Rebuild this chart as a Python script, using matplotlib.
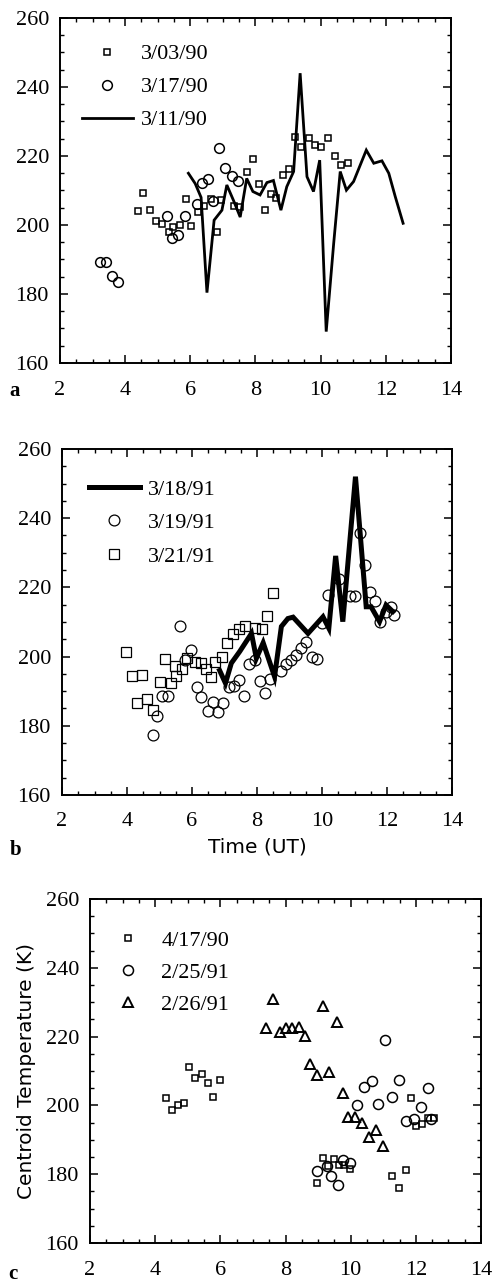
import matplotlib
matplotlib.use("Agg")
import matplotlib.pyplot as plt
from matplotlib.ticker import MultipleLocator

# ---------------- data ----------------
# panel a
a_sq_x = [4.39, 4.56, 4.76, 4.94, 5.12, 5.33, 5.48, 5.69, 5.86, 6.02, 6.22, 6.42, 6.63, 6.81, 6.95, 7.33, 7.53,
          7.73, 7.92, 8.10, 8.29, 8.47, 8.63, 8.83, 9.04, 9.22, 9.40, 9.64, 9.83, 10.02, 10.24, 10.44, 10.63, 10.83]
a_sq_y = [204.1, 209.4, 204.3, 201.2, 200.3, 198.1, 199.3, 200.0, 207.4, 199.7, 203.9, 205.5, 207.4, 198.1, 207.2,
          205.5, 205.3, 215.5, 219.0, 211.9, 204.3, 209.0, 207.7, 214.6, 216.1, 225.6, 222.7, 225.1, 223.2, 222.7,
          225.2, 220.0, 217.4, 218.0]
a_ci_x = [3.23, 3.40, 3.59, 3.79, 5.28, 5.45, 5.63, 5.84, 6.20, 6.35, 6.53, 6.71, 6.89, 7.07, 7.27, 7.46]
a_ci_y = [189.4, 189.4, 185.3, 183.6, 202.6, 196.1, 197.1, 202.6, 206.1, 212.3, 213.2, 207.0, 222.2, 216.4, 214.2, 212.8]
a_ln_x = [5.94, 6.15, 6.33, 6.51, 6.73, 6.97, 7.12, 7.33, 7.53, 7.73, 7.92, 8.14, 8.35, 8.55, 8.78, 8.96, 9.17,
          9.37, 9.58, 9.78, 9.97, 10.17, 10.40, 10.60, 10.79, 11.01, 11.40, 11.63, 11.88, 12.09, 12.29, 12.53]
a_ln_y = [215.0, 212.0, 208.0, 180.4, 201.4, 204.3, 211.6, 207.0, 202.3, 213.5, 209.7, 208.7, 212.3, 212.9, 204.3,
          211.1, 215.5, 244.0, 214.0, 209.7, 218.8, 169.1, 194.7, 215.5, 210.1, 212.6, 221.7, 217.9, 218.6, 215.0,
          208.2, 200.5]
a_labels = ["3/03/90", "3/17/90", "3/11/90"]

# panel b
b_ln_x = [6.85, 7.03, 7.21, 7.47, 7.83, 7.98, 8.19, 8.54, 8.75, 8.95, 9.11, 9.57, 10.03, 10.21, 10.42, 10.64,
          11.03, 11.36, 11.51, 11.77, 11.97, 12.18]
b_ln_y = [196.0, 192.3, 198.1, 201.5, 206.7, 199.5, 204.0, 194.2, 208.7, 211.0, 211.4, 206.7, 211.5, 208.2, 229.1,
          210.1, 252.0, 214.4, 214.4, 210.1, 214.9, 213.0]
b_ci_x = [4.79, 4.91, 5.09, 5.27, 5.63, 5.78, 5.96, 6.14, 6.29, 6.48, 6.65, 6.80, 6.96, 7.14, 7.30, 7.44, 7.59,
          7.76, 7.93, 8.08, 8.24, 8.39, 8.75, 8.90, 9.06, 9.21, 9.36, 9.52, 9.70, 9.85, 10.01, 10.18, 10.52, 10.85,
          11.00, 11.16, 11.31, 11.48, 11.62, 11.77, 11.97, 12.13, 12.23]
b_ci_y = [177.3, 182.8, 188.7, 188.7, 208.7, 199.1, 202.0, 191.2, 188.3, 184.2, 186.8, 184.1, 186.7, 191.3, 191.4,
          193.1, 188.7, 197.8, 198.9, 192.9, 189.4, 193.4, 195.7, 198.0, 199.1, 200.6, 202.6, 204.2, 199.9, 199.2,
          209.6, 217.8, 222.3, 217.5, 217.5, 235.6, 226.5, 218.8, 216.2, 210.1, 213.0, 214.4, 212.0]
b_sq_x = [3.96, 4.14, 4.47, 4.32, 4.63, 4.81, 5.01, 5.16, 5.35, 5.47, 5.52, 5.70, 5.86, 6.09, 6.27, 6.44, 6.58,
          6.72, 6.91, 7.09, 7.26, 7.44, 7.62, 7.95, 8.15, 8.32, 8.49]
b_sq_y = [201.4, 194.4, 194.7, 186.5, 187.7, 184.6, 192.8, 199.2, 192.5, 197.3, 194.4, 196.3, 199.7, 198.5, 198.2,
          196.3, 194.2, 198.5, 199.8, 203.8, 206.5, 207.9, 208.7, 208.2, 207.9, 211.7, 218.5]
b_labels = ["3/18/91", "3/19/91", "3/21/91"]

# panel c
c_sq_x = [4.33, 4.53, 4.71, 4.89, 5.05, 5.23, 5.43, 5.61, 5.79, 5.99, 8.97, 9.14, 9.31, 9.48, 9.64, 9.81, 9.98,
          11.27, 11.48, 11.69, 11.84, 12.02, 12.20, 12.38, 12.55]
c_sq_y = [202.2, 198.8, 200.1, 200.8, 211.2, 208.0, 209.0, 206.4, 202.5, 207.5, 177.3, 184.8, 182.4, 184.3, 182.6,
          182.6, 181.4, 179.5, 175.9, 181.3, 202.2, 194.0, 194.5, 196.4, 196.4]
c_ci_x = [8.98, 9.26, 9.39, 9.60, 9.77, 9.98, 10.20, 10.41, 10.64, 10.84, 11.05, 11.28, 11.49, 11.71, 11.94,
          12.15, 12.36, 12.48]
c_ci_y = [181.0, 182.4, 179.5, 176.8, 184.2, 183.4, 200.1, 205.3, 207.0, 200.5, 218.9, 202.4, 207.5, 195.6,
          196.1, 199.6, 205.1, 196.0]
c_tr_x = [7.40, 7.62, 7.83, 8.01, 8.21, 8.41, 8.59, 8.76, 8.97, 9.16, 9.35, 9.57, 9.77, 9.93, 10.14, 10.34,
          10.57, 10.79, 11.00]
c_tr_y = [222.5, 230.9, 221.3, 222.5, 222.5, 222.7, 220.2, 212.0, 208.7, 228.8, 209.7, 224.2, 203.5, 196.7,
          196.7, 195.0, 190.9, 192.8, 188.2]
c_labels = ["4/17/90", "2/25/91", "2/26/91"]

x_ticks = [2, 4, 6, 8, 10, 12, 14]
y_ticks = [160, 180, 200, 220, 240, 260]

# ---------------- figure ----------------
W, H = 495, 1282
fig = plt.figure(figsize=(W / 100, H / 100), dpi=100)

SERIF = "Liberation Serif"
SANS = "DejaVu Sans"
TICK_FS = 16
LEG_FS = 16


def px_axes(l, t, r, b):
    return fig.add_axes([l / W, 1 - b / H, (r - l) / W, (b - t) / H])


def style(ax, pad_x):
    ax.set_xlim(2, 14)
    ax.set_ylim(160, 260)
    ax.set_xticks(x_ticks)
    ax.set_yticks(y_ticks)
    ax.xaxis.set_minor_locator(MultipleLocator(0.5))
    ax.yaxis.set_minor_locator(MultipleLocator(5))
    ax.tick_params(which="both", direction="in", top=True, right=True, color="black")
    ax.tick_params(which="major", length=6, width=1.1)
    ax.tick_params(which="minor", length=3, width=1.0)
    ax.tick_params(axis="x", which="major", pad=pad_x)
    ax.tick_params(axis="y", which="major", pad=8)
    for lab in ax.get_xticklabels() + ax.get_yticklabels():
        lab.set_fontfamily(SERIF)
        lab.set_fontsize(TICK_FS)
    for s in ax.spines.values():
        s.set_linewidth(1.4)
        s.set_color("black")


def leg(ax, handles, labels, anchor, spacing):
    return ax.legend(handles, labels, loc="upper left", bbox_to_anchor=anchor, frameon=False,
                     borderaxespad=0, borderpad=0, handlelength=2.3, handletextpad=0.35,
                     labelspacing=spacing, numpoints=1, prop={"family": SERIF, "size": LEG_FS})


# ---- panel a ----
axa = px_axes(60, 18, 451, 363)
sq_a, = axa.plot(a_sq_x, a_sq_y, ls="none", marker="s", ms=4.3, mfc="none", mec="black", mew=1.1)
ci_a, = axa.plot(a_ci_x, a_ci_y, ls="none", marker="o", ms=7, mfc="none", mec="black", mew=1.1)
ln_a, = axa.plot(a_ln_x, a_ln_y, color="black", lw=2.0, solid_joinstyle="miter")
style(axa, 13)
leg(axa, [sq_a, ci_a, ln_a], a_labels, (0.056, 0.925), 0.56)

# ---- panel b ----
axb = px_axes(62, 449, 452, 795)
ln_b, = axb.plot(b_ln_x, b_ln_y, color="black", lw=3.6, solid_joinstyle="miter")
ci_b, = axb.plot(b_ci_x, b_ci_y, ls="none", marker="o", ms=7.8, mfc="none", mec="black", mew=0.9)
sq_b, = axb.plot(b_sq_x, b_sq_y, ls="none", marker="s", ms=7.2, mfc="none", mec="black", mew=0.9)
style(axb, 12)
axb.set_xlabel("Time (UT)", fontfamily=SANS, fontsize=14.5, labelpad=5)
leg(axb, [ln_b, ci_b, sq_b], b_labels, (0.069, 0.913), 0.58)

# ---- panel c ----
axc = px_axes(90, 899, 481, 1243)
sq_c, = axc.plot(c_sq_x, c_sq_y, ls="none", marker="s", ms=4.0, mfc="none", mec="black", mew=1.1)
ci_c, = axc.plot(c_ci_x, c_ci_y, ls="none", marker="o", ms=7.2, mfc="none", mec="black", mew=1.1)
tr_c, = axc.plot(c_tr_x, c_tr_y, ls="none", marker="^", ms=6.8, mfc="none", mec="black", mew=1.4)
style(axc, 13)
axc.set_ylabel("Centroid Temperature (K)", fontfamily=SANS, fontsize=14.5, labelpad=7)
leg(axc, [sq_c, ci_c, tr_c], c_labels, (0.032, 0.909), 0.52)

# panel letters
for letter, (px, py) in zip(["a", "b", "c"], [(15, 391), (16, 850), (13, 1274)]):
    fig.text(px / W, 1 - py / H, letter, fontfamily=SERIF, fontweight="bold", fontsize=15,
             ha="center", va="center")

fig.savefig("out.png", dpi=100)
